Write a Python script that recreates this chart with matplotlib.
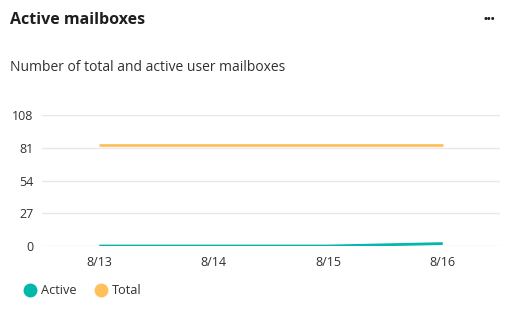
import matplotlib.pyplot as plt
from matplotlib.lines import Line2D

# chart data
dates = ['8/13', '8/14', '8/15', '8/16']
active = [0, 0, 0, 2]
total = [83, 83, 83, 83]
y_ticks = [0, 27, 54, 81, 108]

teal = '#01B8AA'
orange = '#FFC05C'
text_col = '#323130'

plt.rcParams['font.family'] = ['Open Sans', 'DejaVu Sans']

fig = plt.figure(figsize=(5.15, 3.13), dpi=100)
ax = fig.add_axes([42 / 515, 1 - 246 / 313, 458 / 515, 131 / 313])

x = list(range(len(dates)))
ax.plot(x, total, color=orange, linewidth=2, solid_capstyle='butt')
ax.plot(x, active, color=teal, linewidth=2, solid_capstyle='butt')

ax.set_xlim(-0.5, len(dates) - 0.5)
ax.set_ylim(0, 108)
ax.set_yticks(y_ticks)
ax.set_xticks(x)
ax.set_xticklabels(dates)
ax.grid(axis='y', color='#e8e8e8', linewidth=1)
ax.set_axisbelow(True)
for s in ax.spines.values():
    s.set_visible(False)
ax.tick_params(length=0, labelsize=9, colors=text_col, pad=7)
ax.tick_params(axis='y', pad=6)

# header
fig.text(10 / 515, 1 - 20 / 313, 'Active mailboxes', fontsize=11.5, fontweight='bold',
         color='#201f1e', va='center', ha='left')
fig.text(489 / 515, 1 - 19 / 313, '•••', fontsize=7.5, fontweight='bold', color='#201f1e',
         va='center', ha='center')
fig.text(10 / 515, 1 - 68 / 313, 'Number of total and active user mailboxes', fontsize=10,
         color=text_col, va='center', ha='left')

# legend
handles = [Line2D([], [], marker='o', linestyle='', markersize=9, color=teal),
           Line2D([], [], marker='o', linestyle='', markersize=9, color=orange)]
fig.legend(handles, ['Active', 'Total'], loc='center left', bbox_to_anchor=(9 / 515, 1 - 291 / 313),
           ncol=2, frameon=False, fontsize=9.2, handletextpad=0.1, columnspacing=1.2,
           labelcolor=text_col, handlelength=1.5)

fig.savefig('out.png', dpi=100, facecolor='white')
